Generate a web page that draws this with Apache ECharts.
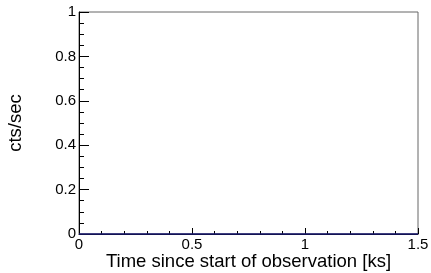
<!DOCTYPE html>
<html><head><meta charset="utf-8">
<script src="https://cdn.jsdelivr.net/npm/echarts@6/dist/echarts.min.js"></script>
<style>html,body{margin:0;padding:0;background:#fff}#c{width:431px;height:273px}</style>
</head><body><div id="c"></div>
<script>
const timeKs = [0, 0.25, 0.5, 0.75, 1, 1.25, 1.5];
const rate = [0, 0, 0, 0, 0, 0, 0];
const xTitle = 'Time since start of observation [ks]';
const yTitle = 'cts/sec';
const font = 'Liberation Sans, Arial, sans-serif';
const chart = echarts.init(document.getElementById('c'), null, {renderer: 'canvas'});
chart.setOption({
  animation: false,
  backgroundColor: '#fff',
  grid: {left: 79, top: 12, right: 13, bottom: 39, outerBoundsMode: 'none', containLabel: false,
         show: true, borderColor: '#666', borderWidth: 1, backgroundColor: 'transparent'},
  xAxis: {
    type: 'value', min: 0, max: 1.5, interval: 0.5,
    name: xTitle, nameLocation: 'middle', nameGap: 18, nameMoveOverlap: false,
    nameTextStyle: {fontFamily: font, fontSize: 18.5, color: '#000'},
    axisLine: {lineStyle: {color: '#000', width: 1}},
    axisTick: {inside: true, length: 6, lineStyle: {color: '#000'}},
    minorTick: {show: true, splitNumber: 5, length: 3, lineStyle: {color: '#000'}},
    axisLabel: {fontFamily: font, fontSize: 15, color: '#000', margin: 3},
    splitLine: {show: false}
  },
  yAxis: {
    type: 'value', min: 0, max: 1, interval: 0.2,
    name: yTitle, nameLocation: 'middle', nameGap: 54, nameRotate: 90, nameMoveOverlap: false,
    nameTextStyle: {fontFamily: font, fontSize: 18.5, color: '#000'},
    axisLine: {lineStyle: {color: '#000', width: 1}},
    axisTick: {inside: true, length: 10, lineStyle: {color: '#000'}},
    minorTick: {show: true, splitNumber: 4, length: 5, lineStyle: {color: '#000'}},
    axisLabel: {fontFamily: font, fontSize: 15, color: '#000', margin: 3, padding: [3, 0, 0, 0], formatter: v => String(+v.toFixed(2))},
    splitLine: {show: false}
  },
  series: [{
    type: 'line', data: timeKs.map((t, i) => [t, rate[i]]),
    showSymbol: false, lineStyle: {color: '#1a1a70', width: 1.5}, clip: false
  }]
});
</script></body></html>
